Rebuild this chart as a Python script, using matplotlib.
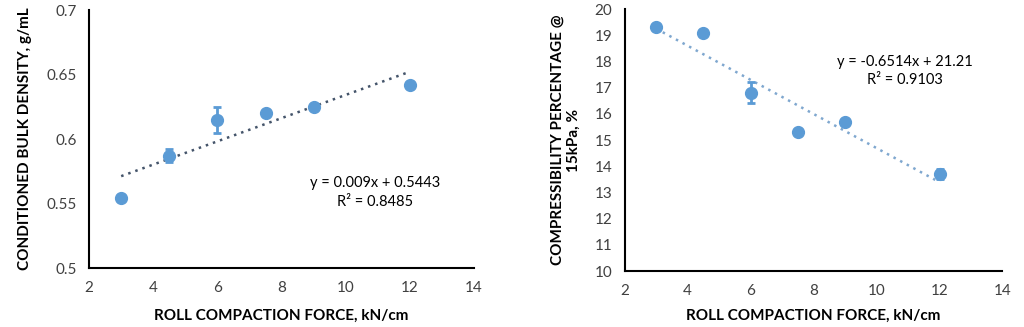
import matplotlib.pyplot as plt
import numpy as np

plt.rcParams['font.family'] = ['Lato', 'DejaVu Sans']

force = [3, 4.5, 6, 7.5, 9, 12]

density = [0.554, 0.587, 0.615, 0.620, 0.625, 0.642]
density_err = [0.0, 0.005, 0.010, 0.0, 0.0, 0.0]
density_fit = (0.009, 0.5443)
density_eq = ['y = 0.009x + 0.5443', 'R² = 0.8485']

compress = [19.3, 19.1, 16.8, 15.3, 15.7, 13.7]
compress_err = [0.0, 0.0, 0.4, 0.0, 0.0, 0.2]
compress_fit = (-0.6514, 21.21)
compress_eq = ['y = -0.6514x + 21.21', 'R² = 0.9103']

blue = '#5B9BD5'
fig = plt.figure(figsize=(10.24, 3.27), dpi=100)

ax1 = fig.add_axes([0.087, 0.180, 0.376, 0.789])
ax2 = fig.add_axes([0.610, 0.171, 0.369, 0.801])


def style(ax):
    for s in ['top', 'right']:
        ax.spines[s].set_visible(False)
    for s in ['left', 'bottom']:
        ax.spines[s].set_linewidth(1.5)
    ax.tick_params(length=0, labelsize=11, colors='#404040', pad=9)
    ax.set_xlim(2, 14)
    ax.set_xticks(range(2, 15, 2))


def draw(ax, y, err, fit, trend_color):
    xs = np.array([force[0], force[-1]])
    ax.plot(xs, fit[0] * xs + fit[1], linestyle=(0, (1, 2)), color=trend_color, lw=1.8, zorder=2)
    ax.errorbar(force, y, yerr=err, fmt='o', color=blue, ms=8.5, elinewidth=2,
                capsize=3, capthick=2, zorder=3)


style(ax1)
draw(ax1, density, density_err, density_fit, '#44546A')
ax1.set_ylim(0.5, 0.7)
ax1.set_yticks([0.5, 0.55, 0.6, 0.65, 0.7])
ax1.set_yticklabels(['0.5', '0.55', '0.6', '0.65', '0.7'])
ax1.text(10.9, 0.566, density_eq[0], ha='center', va='center', fontsize=10.5)
ax1.text(10.9, 0.551, density_eq[1], ha='center', va='center', fontsize=10.5)
ax1.set_xlabel('ROLL COMPACTION FORCE, kN/cm', fontsize=11, fontweight='bold', labelpad=10)
ax1.set_ylabel('CONDITIONED BULK DENSITY, g/mL', fontsize=11, fontweight='bold', labelpad=10)

style(ax2)
draw(ax2, compress, compress_err, compress_fit, '#7FA7CF')
ax2.set_ylim(10, 20)
ax2.set_yticks(range(10, 21))
ax2.text(10.9, 18.0, compress_eq[0], ha='center', va='center', fontsize=10.5)
ax2.text(10.9, 17.3, compress_eq[1], ha='center', va='center', fontsize=10.5)
ax2.set_xlabel('ROLL COMPACTION FORCE, kN/cm', fontsize=11, fontweight='bold', labelpad=8)
ax2.set_ylabel('COMPRESSIBILITY PERCENTAGE @\n15kPa, %', fontsize=11, fontweight='bold', labelpad=10)

fig.savefig('out.png', dpi=100)
